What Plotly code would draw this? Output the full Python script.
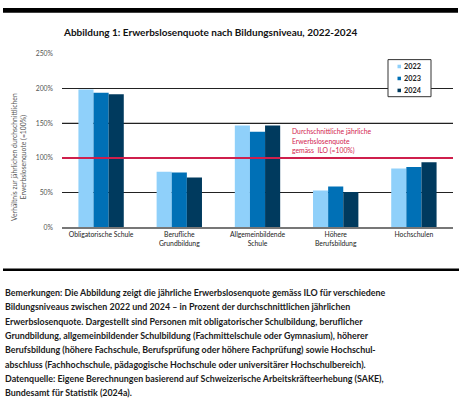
import plotly.graph_objects as go

categories = ["Obligatorische Schule", "Berufliche<br>Grundbildung", "Allgemeinbildende<br>Schule",
              "Höhere<br>Berufsbildung", "Hochschulen"]
years = ["2022", "2023", "2024"]
values_2022 = [199, 80, 147, 53, 85]
values_2023 = [194, 79, 138, 59, 87]
values_2024 = [192, 72, 147, 51, 94]
series = [values_2022, values_2023, values_2024]
colors = ["#8fd0fa", "#0070b6", "#003a5e"]
reference_value = 100
y_ticks = [0, 50, 100, 150, 200, 250]

W, H = 464, 414
FONT = "Lato, Liberation Sans, sans-serif"

def px(x):
    return x / W

def py(y):
    return 1 - y / H

fig = go.Figure()
for name, vals, col in zip(years, series, colors):
    fig.add_trace(go.Bar(name=name, x=categories, y=vals, showlegend=False,
                         marker=dict(color=col, line=dict(width=0))))

fig.update_layout(
    width=W, height=H,
    margin=dict(l=0, r=0, t=0, b=0),
    paper_bgcolor="white", plot_bgcolor="white",
    barmode="group", bargap=0.42, bargroupgap=0,
    font=dict(family=FONT, color="#222"),
    xaxis=dict(domain=[px(62), px(453)], showgrid=False, showline=True, linecolor="#777", linewidth=1.5,
               ticks="", tickfont=dict(size=6.8, color="#222"), fixedrange=True),
    yaxis=dict(domain=[py(226.7), py(50)], range=[0, 250], tickvals=y_ticks,
               ticktext=[f"{v}%" for v in y_ticks], showgrid=True, gridcolor="#222", gridwidth=1.2,
               zeroline=False, showline=False, ticks="", tickfont=dict(size=6.8, color="#555"),
               ticklabelstandoff=8, fixedrange=True),
)

# gray 150% gridline overlay
fig.add_shape(type="line", xref="paper", yref="y", x0=px(62), x1=px(453), y0=150, y1=150,
              line=dict(color="#8a8a8a", width=1.5), layer="below")
# red reference line
fig.add_shape(type="line", xref="paper", yref="y", x0=px(62), x1=px(453), y0=reference_value, y1=reference_value,
              line=dict(color="#cf1f4c", width=2), layer="above")

# custom compact legend
fig.add_shape(type="rect", xref="paper", yref="paper", x0=px(388), x1=px(431), y0=py(93.5), y1=py(55.7),
              fillcolor="white", line=dict(color="#333", width=1), layer="above")
for i, (name, col) in enumerate(zip(years, colors)):
    yc = 62.7 + i * 12.2
    fig.add_shape(type="rect", xref="paper", yref="paper", x0=px(397.5), x1=px(401), y0=py(yc + 1.8), y1=py(yc - 1.8),
                  fillcolor=col, line=dict(width=0), layer="above")
    fig.add_annotation(text=f"<b>{name}</b>", xref="paper", yref="paper", x=px(402), y=py(yc),
                       xanchor="left", yanchor="middle", showarrow=False,
                       font=dict(size=7.3, color="#222", family=FONT))

# top black bar and bottom rule
fig.add_shape(type="rect", xref="paper", yref="paper", x0=px(3), x1=px(458), y0=py(8), y1=py(3),
              fillcolor="black", line=dict(width=0))
fig.add_shape(type="line", xref="paper", yref="paper", x0=px(3), x1=px(459), y0=py(270), y1=py(270),
              line=dict(color="black", width=2.5))

# title
fig.add_annotation(text="<b>Abbildung 1: Erwerbslosenquote nach Bildungsniveau, 2022-2024</b>",
                   xref="paper", yref="paper", x=px(61), y=py(28), xanchor="left", yanchor="middle",
                   showarrow=False, font=dict(size=10, color="#111", family=FONT))

# y-axis title
fig.add_annotation(text="Verhältnis zur jährlichen durchschnittlichen<br>Erwerbslosenquote (=100%)",
                   xref="paper", yref="paper", x=px(19), y=py(155), xanchor="center", yanchor="middle",
                   textangle=-90, showarrow=False, align="center",
                   font=dict(size=6.8, color="#555", family=FONT))

# red annotation
red_lines = ["Durchschnittliche jährliche", "Erwerbslosenquote", "gemäss  ILO (=100%)"]
for i, t in enumerate(red_lines):
    fig.add_annotation(text=t, xref="paper", yref="paper", x=px(290), y=py(128.7 + i * 9.7),
                       xanchor="left", yanchor="middle", showarrow=False,
                       font=dict(size=6.8, color="#d2234f", family=FONT))

notes = [
    "Bemerkungen: Die Abbildung zeigt die jährliche Erwerbslosenquote gemäss ILO für verschiedene",
    "Bildungsniveaus zwischen 2022 und 2024 – in Prozent der durchschnittlichen jährlichen",
    "Erwerbslosenquote. Dargestellt sind Personen mit obligatorischer Schulbildung, beruflicher",
    "Grundbildung, allgemeinbildender Schulbildung (Fachmittelschule oder Gymnasium), höherer",
    "Berufsbildung (höhere Fachschule, Berufsprüfung oder höhere Fachprüfung) sowie Hochschul-",
    "abschluss (Fachhochschule, pädagogische Hochschule oder universitärer Hochschulbereich).",
    "Datenquelle: Eigene Berechnungen basierend auf Schweizerische Arbeitskräfteerhebung (SAKE),",
    "Bundesamt für Statistik (2024a).",
]
for i, t in enumerate(notes):
    fig.add_annotation(text=f"<b>{t}</b>", xref="paper", yref="paper", x=px(3), y=py(293.3 + i * 14.6),
                       xanchor="left", yanchor="middle", showarrow=False,
                       font=dict(size=8.9, color="#1a1a1a", family=FONT))

fig.write_html("out.html", config={"displayModeBar": False},
               post_script="document.body.style.margin='0';document.body.style.overflow='hidden';")
